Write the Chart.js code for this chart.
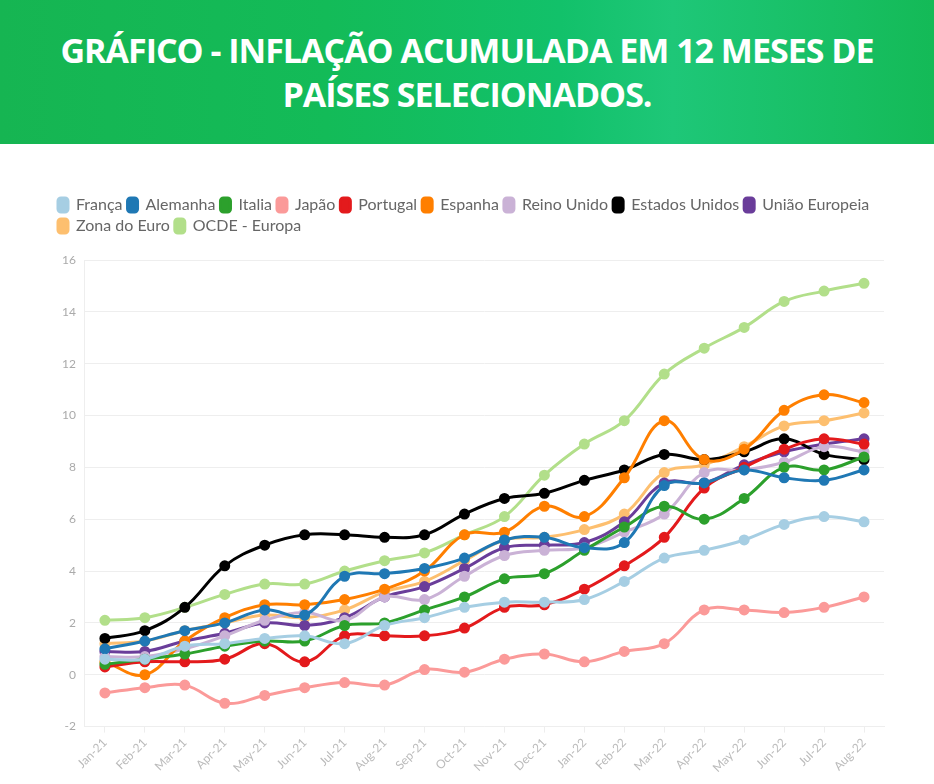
<!DOCTYPE html>
<html>
<head>
<meta charset="utf-8">
<script src="https://cdn.jsdelivr.net/npm/chart.js@4"></script>
<style>
  body { margin: 0; background: #fff; width: 934px; height: 784px; overflow: hidden; }
  #header {
    position: absolute; left: 0; top: 0; width: 934px; height: 144px; overflow: hidden;
    background: linear-gradient(90deg, #16b552 0%, #13bb58 35%, #12c16a 60%, #1ec778 72%, #14ba57 100%);
    color: #fff; font-family: "Open Sans", sans-serif; font-weight: 700;
    font-size: 34px; line-height: 44px; text-align: center;
  }
  #header .t { position: absolute; left: 0; width: 934px; top: 28px; letter-spacing: -1px; }
  #wrap { position: absolute; left: 53px; top: 192px; width: 846px; height: 592px; }
</style>
</head>
<body>
<div id="header"><div class="t">GRÁFICO - INFLAÇÃO ACUMULADA EM 12 MESES DE<br>PAÍSES SELECIONADOS.</div></div>
<div id="wrap"><canvas id="myChart"></canvas></div>
<script>
const ctx = document.getElementById("myChart");

// months //////////////////////////////////////////////
var months = ["Jan-21","Feb-21","Mar-21","Apr-21","May-21","Jun-21","Jul-21","Aug-21","Sep-21","Oct-21","Nov-21","Dec-21",
              "Jan-22","Feb-22","Mar-22","Apr-22","May-22","Jun-22","Jul-22","Aug-22"];

// values (% 12 months) ////////////
var franca      = [0.6,0.6,1.1,1.2,1.4,1.5,1.2,1.9,2.2,2.6,2.8,2.8,2.9,3.6,4.5,4.8,5.2,5.8,6.1,5.9];
var alemanha    = [1.0,1.3,1.7,2.0,2.5,2.3,3.8,3.9,4.1,4.5,5.2,5.3,4.9,5.1,7.3,7.4,7.9,7.6,7.5,7.9];
var italia      = [0.4,0.6,0.8,1.1,1.3,1.3,1.9,2.0,2.5,3.0,3.7,3.9,4.8,5.7,6.5,6.0,6.8,8.0,7.9,8.4];
var japao       = [-0.7,-0.5,-0.4,-1.1,-0.8,-0.5,-0.3,-0.4,0.2,0.1,0.6,0.8,0.5,0.9,1.2,2.5,2.5,2.4,2.6,3.0];
var portugal    = [0.3,0.5,0.5,0.6,1.2,0.5,1.5,1.5,1.5,1.8,2.6,2.7,3.3,4.2,5.3,7.2,8.0,8.7,9.1,8.9];
var espanha     = [0.5,0.0,1.3,2.2,2.7,2.7,2.9,3.3,4.0,5.4,5.5,6.5,6.1,7.6,9.8,8.3,8.7,10.2,10.8,10.5];
var reinoUnido  = [0.7,0.7,1.0,1.5,2.1,2.4,2.1,3.0,2.9,3.8,4.6,4.8,4.9,5.5,6.2,7.8,7.9,8.2,8.8,8.6];
var eua         = [1.4,1.7,2.6,4.2,5.0,5.4,5.4,5.3,5.4,6.2,6.8,7.0,7.5,7.9,8.5,8.3,8.6,9.1,8.5,8.3];
var uniaoEur    = [0.9,0.9,1.3,1.6,2.0,1.9,2.2,3.0,3.4,4.1,4.9,5.0,5.1,5.9,7.4,7.4,8.1,8.6,8.9,9.1];
var zonaEuro    = [1.2,1.3,1.7,2.0,2.3,2.2,2.5,3.2,3.6,4.4,5.2,5.3,5.6,6.2,7.8,8.1,8.8,9.6,9.8,10.1];
var ocdeEuropa  = [2.1,2.2,2.6,3.1,3.5,3.5,4.0,4.4,4.7,5.4,6.1,7.7,8.9,9.8,11.6,12.6,13.4,14.4,14.8,15.1];

var names  = ["França","Alemanha","Italia","Japão","Portugal","Espanha","Reino Unido","Estados Unidos","União Europeia","Zona do Euro","OCDE - Europa"];
var series = [franca,alemanha,italia,japao,portugal,espanha,reinoUnido,eua,uniaoEur,zonaEuro,ocdeEuropa];
var colors = ["#a6cee3","#1f78b4","#2ca02c","#fb9a99","#e31a1c","#ff7f00","#cab2d6","#000000","#6a3d9a","#fdbf6f","#b2df8a"];
///////////////////////////////////////////////////////

var datasets = [];
for (i=0; i<series.length; i++){
    datasets.push({
        label: names[i],
        data: series[i],
        borderColor: colors[i],
        backgroundColor: colors[i],
        pointBackgroundColor: colors[i],
        pointBorderColor: colors[i],
        borderWidth: 3,
        pointRadius: 4,
        tension: 0.4,
        fill: false
    });
}

// extra room under the legend
var legendGap = {
    id: 'legendGap',
    beforeInit: function(chart){
        var fit = chart.legend.fit;
        chart.legend.fit = function(){
            fit.bind(chart.legend)();
            this.height += 16;
        };
    }
};

Chart.defaults.font.family = "Lato, 'Open Sans', sans-serif";

var myLineChart = new Chart(ctx, {
    type: 'line',
    data: { labels: months, datasets: datasets },
    plugins: [legendGap],
    options: {
        responsive: true,
        maintainAspectRatio: false,
        animation: false,
        layout: { padding: { left: 0, right: 15, top: 0, bottom: 6 } },
        plugins: {
            tooltip: { enabled: false },
            legend: {
                position: 'top',
                align: 'start',
                labels: {
                    color: '#666',
                    font: { size: 16 },
                    boxWidth: 10,
                    boxHeight: 14,
                    padding: 5,
                    useBorderRadius: true,
                    borderRadius: 3
                }
            }
        },
        scales: {
            y: {
                min: -2, max: 16,
                ticks: { stepSize: 2, color: '#aaa', font: { size: 12 }, padding: 9 },
                grid: { color: '#eee', drawTicks: false },
                border: { color: '#eee' }
            },
            x: {
                offset: true,
                ticks: { color: '#bbb', font: { size: 12 }, minRotation: 45, maxRotation: 45 },
                grid: { drawOnChartArea: false, drawTicks: true, tickLength: 6, color: '#eee' },
                border: { color: '#eee' }
            }
        }
    }
});
</script>
</body>
</html>
